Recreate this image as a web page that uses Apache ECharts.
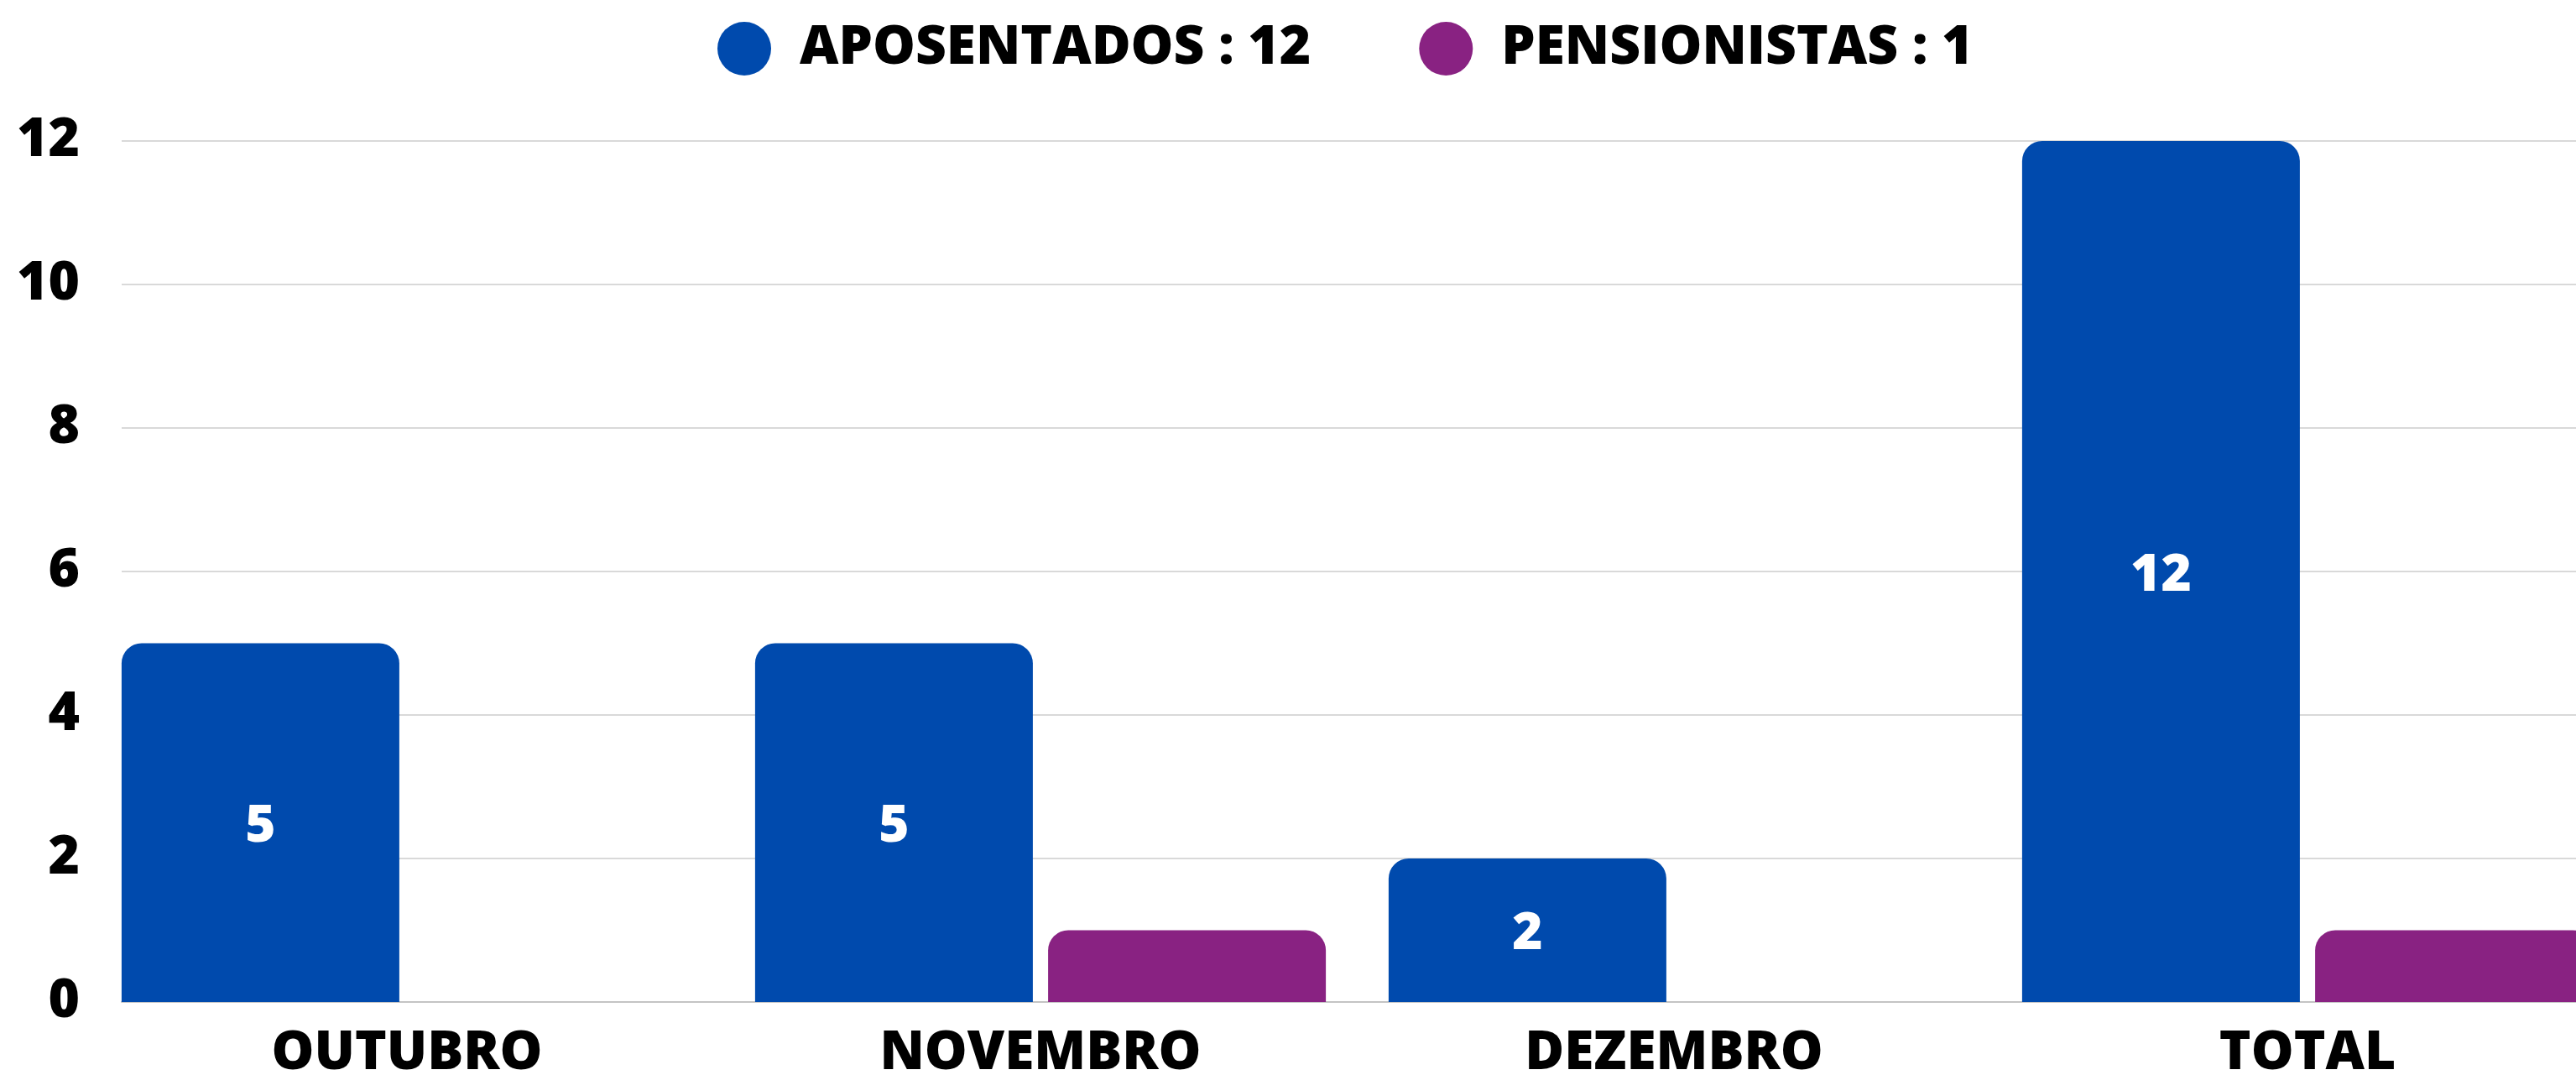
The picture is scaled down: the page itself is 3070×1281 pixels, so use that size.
<!DOCTYPE html>
<html><head><meta charset="utf-8">
<script src="https://cdn.jsdelivr.net/npm/echarts@6/dist/echarts.min.js"></script>
<style>html,body{margin:0;padding:0;background:#fff}#c{width:3070px;height:1281px}</style>
</head><body><div id="c"></div>
<script>
const categories = ['OUTUBRO', 'NOVEMBRO', 'DEZEMBRO', 'TOTAL'];
const seriesNames = ['APOSENTADOS', 'PENSIONISTAS'];
const aposentados = [5, 5, 2, 12];
const pensionistas = [0, 1, 0, 1];
const yTicks = [0, 2, 4, 6, 8, 10, 12];

const totalIdx = categories.indexOf('TOTAL');
const totals = {};
totals[seriesNames[0]] = aposentados[totalIdx];
totals[seriesNames[1]] = pensionistas[totalIdx];

const FONT = 'Open Sans';
const chart = echarts.init(document.getElementById('c'), null, {renderer: 'canvas'});
const yMin = yTicks[0], yMax = yTicks[yTicks.length - 1], yInt = yTicks[1] - yTicks[0];

chart.setOption({
  animation: false,
  backgroundColor: '#ffffff',
  textStyle: {fontFamily: FONT},
  legend: {
    data: seriesNames,
    left: 850, top: 21,
    icon: 'circle',
    itemWidth: 64, itemHeight: 64, itemGap: 129,
    formatter: name => name + ' : ' + totals[name],
    textStyle: {fontFamily: FONT, fontSize: 64, fontWeight: 800, color: '#000', padding: [0, 0, 0, 29]}
  },
  grid: [
    {left: 145, right: 0, top: 168, bottom: 87, containLabel: false, outerBoundsMode: 'none'},
    {left: 107.5, width: 3020, top: 168, bottom: 87, containLabel: false, outerBoundsMode: 'none'}
  ],
  xAxis: [
    {gridIndex: 0, type: 'category', data: categories,
     axisLine: {show: true, lineStyle: {color: '#c4c4c4', width: 2}},
     axisTick: {show: false}, axisLabel: {show: false}, splitLine: {show: false}},
    {gridIndex: 1, type: 'category', data: categories,
     axisLine: {show: false}, axisTick: {show: false},
     axisLabel: {fontFamily: FONT, fontSize: 64, fontWeight: 800, color: '#000', margin: 30}}
  ],
  yAxis: [
    {gridIndex: 0, type: 'value', min: yMin, max: yMax, interval: yInt,
     axisLine: {show: false}, axisTick: {show: false},
     axisLabel: {fontFamily: FONT, fontSize: 64, fontWeight: 800, color: '#000', margin: 50},
     splitLine: {show: true, lineStyle: {color: '#d9d9d9', width: 2}}},
    {gridIndex: 1, type: 'value', min: yMin, max: yMax, interval: yInt, show: false,
     splitLine: {show: false}}
  ],
  series: [
    {name: seriesNames[0], type: 'bar', xAxisIndex: 1, yAxisIndex: 1,
     data: aposentados, barWidth: 331, barGap: '5.5%',
     itemStyle: {color: '#004AAD', borderRadius: [24, 24, 0, 0]},
     label: {show: true, position: 'inside', offset: [0, 5], color: '#fff', fontFamily: FONT, fontSize: 62, fontWeight: 800}},
    {name: seriesNames[1], type: 'bar', xAxisIndex: 1, yAxisIndex: 1,
     data: pensionistas, barWidth: 331,
     itemStyle: {color: '#892282', borderRadius: [24, 24, 0, 0]},
     label: {show: false}}
  ]
});
</script>
</body></html>
